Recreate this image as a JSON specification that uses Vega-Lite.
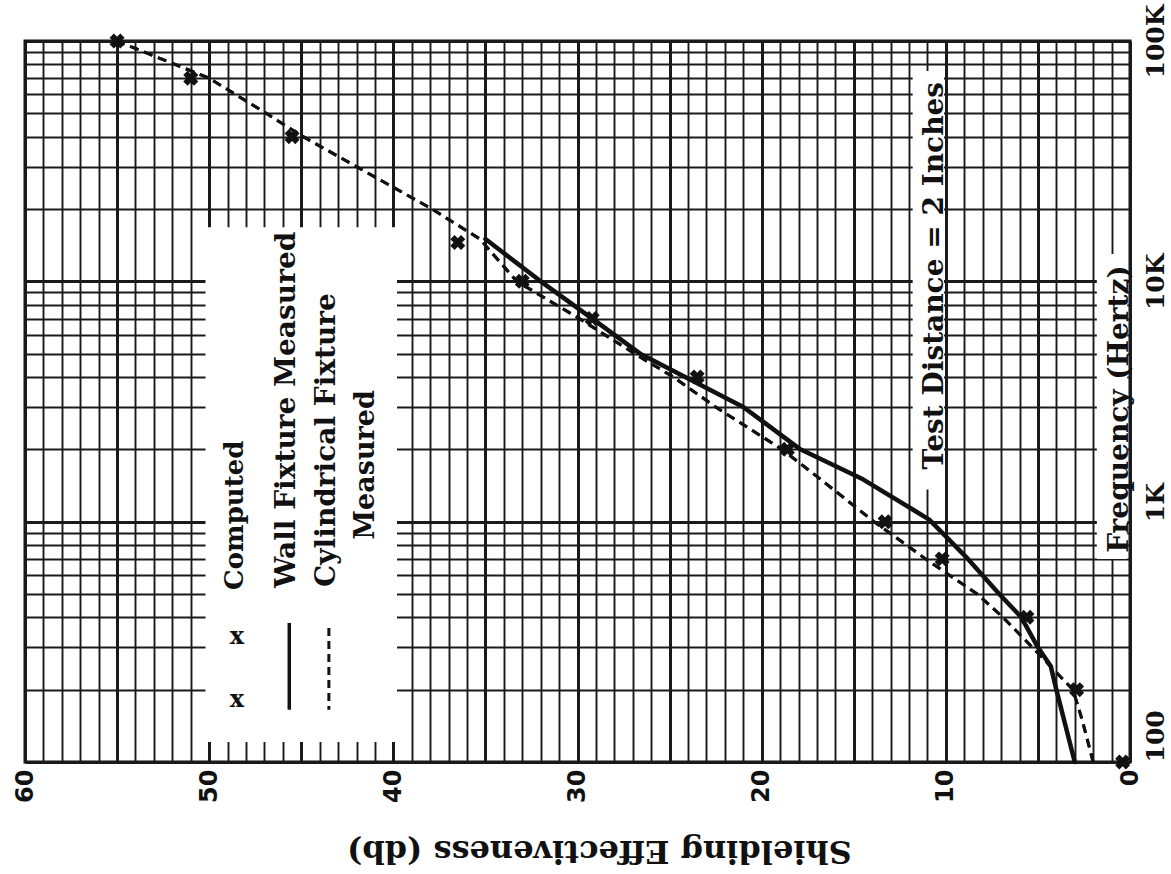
{
  "$schema": "https://vega.github.io/schema/vega-lite/v6.json",
  "width": 1105,
  "height": 721,
  "autosize": "none",
  "padding": {"left": 25, "top": 41, "right": 41, "bottom": 112},
  "background": "white",
  "view": {"stroke": "#111111", "strokeWidth": 3},
  "config": {
    "font": "DejaVu Serif",
    "text": {"font": "DejaVu Serif", "fontWeight": "bold", "color": "#111111"}
  },
  "datasets": {
    "wall": [
      {"freq": 15000, "db": 35},
      {"freq": 10000, "db": 32},
      {"freq": 7000, "db": 29.2},
      {"freq": 5000, "db": 26.6},
      {"freq": 3000, "db": 21},
      {"freq": 2000, "db": 17.9},
      {"freq": 1500, "db": 14.5},
      {"freq": 1100, "db": 11.6},
      {"freq": 1020, "db": 10.9},
      {"freq": 700, "db": 8.8},
      {"freq": 500, "db": 7.1},
      {"freq": 400, "db": 5.9},
      {"freq": 300, "db": 5.0},
      {"freq": 250, "db": 4.3},
      {"freq": 200, "db": 4.0},
      {"freq": 100, "db": 3.0}
    ],
    "cylindrical": [
      {"freq": 100000, "db": 55},
      {"freq": 70000, "db": 50},
      {"freq": 50000, "db": 46.9},
      {"freq": 40000, "db": 44.9},
      {"freq": 30000, "db": 42},
      {"freq": 20000, "db": 37.9},
      {"freq": 15000, "db": 35.3},
      {"freq": 10000, "db": 33.3},
      {"freq": 7000, "db": 29.9},
      {"freq": 5000, "db": 26.9},
      {"freq": 4000, "db": 24.8},
      {"freq": 3000, "db": 22.5},
      {"freq": 2000, "db": 18.9},
      {"freq": 1500, "db": 16.8},
      {"freq": 1000, "db": 13.9},
      {"freq": 700, "db": 11.1},
      {"freq": 500, "db": 8.3},
      {"freq": 400, "db": 6.9},
      {"freq": 300, "db": 5.3},
      {"freq": 200, "db": 3.1},
      {"freq": 150, "db": 2.6},
      {"freq": 100, "db": 2.0}
    ],
    "computed": [
      {"freq": 100000, "db": 55},
      {"freq": 70000, "db": 51},
      {"freq": 40000, "db": 45.5},
      {"freq": 14500, "db": 36.5},
      {"freq": 10000, "db": 33},
      {"freq": 7000, "db": 29.2},
      {"freq": 4000, "db": 23.5},
      {"freq": 2000, "db": 18.6},
      {"freq": 1000, "db": 13.3},
      {"freq": 700, "db": 10.2},
      {"freq": 400, "db": 5.6},
      {"freq": 200, "db": 2.9},
      {"freq": 100, "db": 0.4}
    ],
    "one": [{}]
  },
  "layer": [
    {
      "data": {"name": "cylindrical"},
      "mark": {"type": "line", "stroke": "#111111", "strokeWidth": 3, "strokeDash": [9, 6], "strokeCap": "butt"},
      "encoding": {
        "x": {
          "field": "db",
          "type": "quantitative",
          "scale": {"domain": [0, 60], "reverse": true, "nice": false, "zero": false},
          "axis": {
            "orient": "bottom",
            "values": [0,1,2,3,4,5,6,7,8,9,10,11,12,13,14,15,16,17,18,19,20,21,22,23,24,25,26,27,28,29,30,31,32,33,34,35,36,37,38,39,40,41,42,43,44,45,46,47,48,49,50,51,52,53,54,55,56,57,58,59,60],
            "tickCount": 200,
            "labelExpr": "datum.value % 10 === 0 ? format(datum.value, 'd') : ''",
            "labelAngle": -90,
            "labelAlign": "right",
            "labelBaseline": "middle",
            "labelPadding": 7,
            "labelFont": "DejaVu Sans",
            "labelFontWeight": "bold",
            "labelFontSize": 24,
            "labelColor": "#111111",
            "labelOverlap": false,
            "labelFlush": false,
            "ticks": false,
            "domain": false,
            "grid": true,
            "gridColor": "#1a1a1a",
            "gridOpacity": 1,
            "gridWidth": {"condition": {"test": "datum.value % 5 === 0", "value": 3}, "value": 1.9},
            "title": "Shielding Effectiveness (db)",
            "titleAngle": 180,
            "titleAlign": "center",
            "titleBaseline": "middle",
            "titleX": 574,
            "titleY": 88,
            "titleFont": "DejaVu Serif",
            "titleFontWeight": "bold",
            "titleFontSize": 32,
            "titleColor": "#111111"
          }
        },
        "y": {
          "field": "freq",
          "type": "quantitative",
          "scale": {"type": "log", "domain": [100, 100000], "nice": false},
          "axis": {
            "orient": "right",
            "values": [100,200,300,400,500,600,700,800,900,1000,2000,3000,4000,5000,6000,7000,8000,9000,10000,20000,30000,40000,50000,60000,70000,80000,90000,100000],
            "tickCount": 200,
            "labelExpr": "datum.value === 100 ? '100' : datum.value === 1000 ? '1K' : datum.value === 10000 ? '10K' : datum.value === 100000 ? '100K' : ''",
            "labelAngle": -90,
            "labelAlign": {"condition": {"test": "datum.value <= 1000", "value": "left"}, "value": "center"},
            "labelBaseline": "top",
            "labelPadding": 13,
            "labelFont": "DejaVu Serif",
            "labelFontWeight": "bold",
            "labelFontSize": 25,
            "labelColor": "#111111",
            "labelOverlap": false,
            "labelFlush": false,
            "ticks": false,
            "domain": false,
            "grid": true,
            "gridColor": "#1a1a1a",
            "gridOpacity": 1,
            "gridWidth": {"condition": {"test": "datum.value === 100 || datum.value === 1000 || datum.value === 10000 || datum.value === 100000", "value": 3.2}, "value": 1.9},
            "title": null
          }
        },
        "order": {"field": "freq", "type": "quantitative"}
      }
    },
    {
      "data": {"name": "one"},
      "mark": {"type": "rect", "fill": "white"},
      "encoding": {
        "x": {"datum": 50.2, "type": "quantitative"},
        "x2": {"datum": 39.8},
        "y": {"datum": 121, "type": "quantitative"},
        "y2": {"datum": 16800}
      }
    },
    {
      "data": {"name": "one"},
      "mark": {"type": "rect", "fill": "white"},
      "encoding": {
        "x": {"datum": 11.8, "type": "quantitative"},
        "x2": {"datum": 10.1},
        "y": {"datum": 1360, "type": "quantitative"},
        "y2": {"datum": 75000}
      }
    },
    {
      "data": {"name": "one"},
      "mark": {"type": "rect", "fill": "white"},
      "encoding": {
        "x": {"datum": 1.8, "type": "quantitative"},
        "x2": {"datum": 0.15},
        "y": {"datum": 700, "type": "quantitative"},
        "y2": {"datum": 13000}
      }
    },
    {
      "data": {"name": "cylindrical"},
      "mark": {"type": "line", "stroke": "#111111", "strokeWidth": 3, "strokeDash": [9, 6], "strokeCap": "butt"},
      "encoding": {
        "x": {"field": "db", "type": "quantitative"},
        "y": {"field": "freq", "type": "quantitative"},
        "order": {"field": "freq", "type": "quantitative"}
      }
    },
    {
      "data": {"name": "wall"},
      "mark": {"type": "line", "stroke": "#111111", "strokeWidth": 4.5, "strokeCap": "round", "strokeJoin": "round"},
      "encoding": {
        "x": {"field": "db", "type": "quantitative"},
        "y": {"field": "freq", "type": "quantitative"},
        "order": {"field": "freq", "type": "quantitative"}
      }
    },
    {
      "data": {"name": "computed"},
      "mark": {"type": "point", "shape": "cross", "angle": 45, "filled": true, "size": 230, "color": "#111111", "opacity": 1},
      "encoding": {
        "x": {"field": "db", "type": "quantitative"},
        "y": {"field": "freq", "type": "quantitative"}
      }
    },
    {
      "data": {"name": "one"},
      "mark": {"type": "text", "text": "x", "fontSize": 24, "align": "center", "baseline": "middle"},
      "encoding": {"x": {"datum": 48.5, "type": "quantitative"}, "y": {"datum": 332, "type": "quantitative"}}
    },
    {
      "data": {"name": "one"},
      "mark": {"type": "text", "text": "x", "fontSize": 24, "align": "center", "baseline": "middle"},
      "encoding": {"x": {"datum": 48.5, "type": "quantitative"}, "y": {"datum": 181, "type": "quantitative"}}
    },
    {
      "data": {"name": "one"},
      "mark": {"type": "rule", "stroke": "#111111", "strokeWidth": 3.5},
      "encoding": {"x": {"datum": 45.65, "type": "quantitative"}, "y": {"datum": 379, "type": "quantitative"}, "y2": {"datum": 165}}
    },
    {
      "data": {"name": "one"},
      "mark": {"type": "rule", "stroke": "#111111", "strokeWidth": 3, "strokeDash": [8, 5]},
      "encoding": {"x": {"datum": 43.5, "type": "quantitative"}, "y": {"datum": 361, "type": "quantitative"}, "y2": {"datum": 165}}
    },
    {
      "data": {"name": "one"},
      "mark": {"type": "text", "text": "Computed", "fontSize": 26, "angle": 270, "align": "left", "baseline": "middle"},
      "encoding": {"x": {"datum": 48.6, "type": "quantitative"}, "y": {"datum": 520, "type": "quantitative"}}
    },
    {
      "data": {"name": "one"},
      "mark": {"type": "text", "text": "Wall Fixture Measured", "fontSize": 28, "angle": 270, "align": "left", "baseline": "middle"},
      "encoding": {"x": {"datum": 45.8, "type": "quantitative"}, "y": {"datum": 530, "type": "quantitative"}}
    },
    {
      "data": {"name": "one"},
      "mark": {"type": "text", "text": "Cylindrical Fixture", "fontSize": 28, "angle": 270, "align": "left", "baseline": "middle"},
      "encoding": {"x": {"datum": 43.6, "type": "quantitative"}, "y": {"datum": 535, "type": "quantitative"}}
    },
    {
      "data": {"name": "one"},
      "mark": {"type": "text", "text": "Measured", "fontSize": 27, "angle": 270, "align": "left", "baseline": "middle"},
      "encoding": {"x": {"datum": 41.5, "type": "quantitative"}, "y": {"datum": 840, "type": "quantitative"}}
    },
    {
      "data": {"name": "one"},
      "mark": {"type": "text", "text": "Test Distance = 2 Inches", "fontSize": 28, "angle": 270, "align": "left", "baseline": "middle"},
      "encoding": {"x": {"datum": 10.6, "type": "quantitative"}, "y": {"datum": 1650, "type": "quantitative"}}
    },
    {
      "data": {"name": "one"},
      "mark": {"type": "text", "text": "Frequency (Hertz)", "fontSize": 28, "angle": 270, "align": "left", "baseline": "middle"},
      "encoding": {"x": {"datum": 0.55, "type": "quantitative"}, "y": {"datum": 742, "type": "quantitative"}}
    }
  ]
}
